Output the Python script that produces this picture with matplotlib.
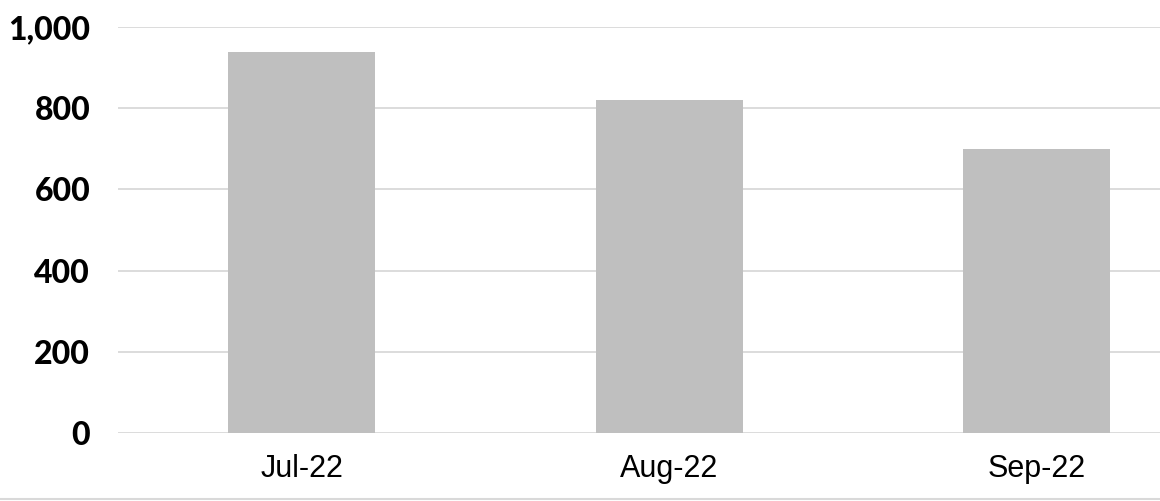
import numpy as np
import matplotlib.pyplot as plt
from matplotlib.lines import Line2D

months = ['Jul-22', 'Aug-22', 'Sep-22']
values = [938, 820, 700]
yticks = [0, 200, 400, 600, 800, 1000]
ytick_labels = ['0', '200', '400', '600', '800', '1,000']

W, H = 1160, 501
fig = plt.figure(figsize=(W / 100, H / 100), dpi=100)
ax = fig.add_axes([118 / W, 1 - 433 / H, 1 - 118 / W, (433 - 27) / H])

x = np.arange(len(months))
ax.bar(x, values, width=0.4, color='#bfbfbf', zorder=2)

ax.set_xlim(-0.5, 2.335)
ax.set_ylim(0, 1000)
ax.set_yticks(yticks)
ax.set_yticklabels(ytick_labels, fontfamily='Lato', fontweight='black', fontsize=23)
ax.set_xticks(x)
ax.set_xticklabels(months, fontfamily='Liberation Sans', fontsize=22)
ax.tick_params(axis='y', length=0, pad=20)
ax.tick_params(axis='x', length=0, pad=15)
ax.grid(axis='y', color='#d9d9d9', linewidth=1.3, zorder=0)
ax.set_axisbelow(True)
for s in ax.spines.values():
    s.set_visible(False)

# thin rule along the bottom of the picture
fig.add_artist(Line2D([0, 1], [2 / H, 2 / H], color='#d9d9d9', linewidth=1.5))

fig.savefig('out.png', dpi=100)
